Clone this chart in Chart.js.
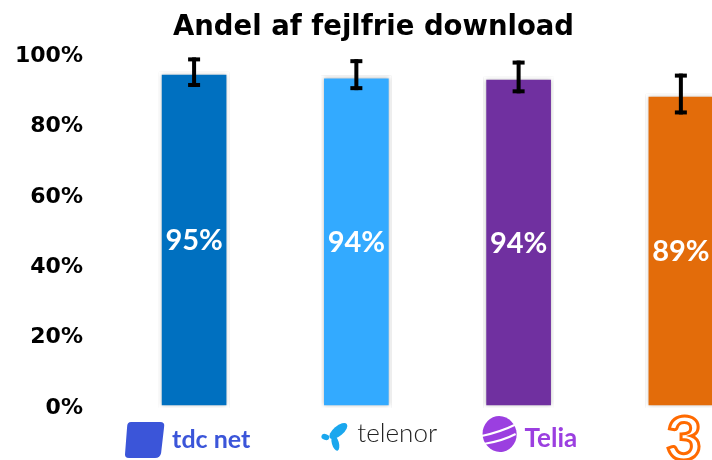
<!DOCTYPE html>
<html lang="da">
<head>
    <meta charset="UTF-8">
    <title>Andel af fejlfrie download</title>
    <style>
        body { margin: 0; overflow: hidden; background: #fff; }
        #wrap { width: 796px; height: 460px; margin-left: -15px; }
    </style>
</head>
<body>
    <div id="wrap">
        <canvas id="dlChart"></canvas>
    </div>
    <script src="https://cdn.jsdelivr.net/npm/chart.js"></script>
    <script>
        // data
        const operators = ['tdc net', 'telenor', 'Telia', '3'];
        const shares = [95.4, 94.4, 94.0, 89.2];
        const errLow = [91.2, 90.3, 89.4, 83.4];
        const errHigh = [99.6, 99.1, 98.7, 95.0];
        const barColors = ['#0070c0', '#33aaff', '#7030a0', '#e36c0a'];
        const yTicks = [0, 20, 40, 60, 80, 100];

        // soft shadow round the bars
        const shadowPlugin = {
            id: 'shadow',
            beforeDatasetsDraw(chart) {
                const ctx = chart.ctx;
                ctx.save();
                ctx.shadowColor = 'rgba(0,0,0,0.28)';
                ctx.shadowBlur = 4;
            },
            afterDatasetsDraw(chart) {
                chart.ctx.restore();
            }
        };

        // error bars + value labels
        const extrasPlugin = {
            id: 'extras',
            afterDatasetsDraw(chart) {
                const ctx = chart.ctx;
                const y = chart.scales.y;
                const meta = chart.getDatasetMeta(0);
                ctx.save();
                meta.data.forEach((bar, i) => {
                    // label
                    ctx.fillStyle = '#fff';
                    ctx.font = 'bold 29px Lato';
                    ctx.textAlign = 'center';
                    ctx.textBaseline = 'middle';
                    ctx.fillText(Math.round(shares[i]) + '%', bar.x, (bar.y + bar.base) / 2 + 1);

                    // error bar
                    const top = y.getPixelForValue(errHigh[i]);
                    const bot = y.getPixelForValue(errLow[i]);
                    ctx.fillStyle = '#000';
                    ctx.fillRect(bar.x - 2, top, 4, bot - top);
                    ctx.fillRect(bar.x - 6, top, 12, 4);
                    ctx.fillRect(bar.x - 6, bot - 4, 12, 4);
                });
                ctx.restore();
            }
        };

        // operator logos under the bars (approximations)
        const logoPlugin = {
            id: 'logos',
            afterDraw(chart) {
                const ctx = chart.ctx;
                const x = chart.scales.x;
                ctx.save();
                ctx.textBaseline = 'alphabetic';
                ctx.textAlign = 'left';

                // tdc net
                let cx = x.getPixelForValue(0);
                ctx.fillStyle = '#3b55d9';
                ctx.beginPath();
                ctx.moveTo(cx - 63, 422);
                ctx.lineTo(cx - 34, 422);
                ctx.quadraticCurveTo(cx - 29, 422, cx - 30, 427);
                ctx.lineTo(cx - 33, 453);
                ctx.quadraticCurveTo(cx - 34, 458, cx - 39, 458);
                ctx.lineTo(cx - 65, 458);
                ctx.quadraticCurveTo(cx - 70, 458, cx - 69, 453);
                ctx.lineTo(cx - 67, 427);
                ctx.quadraticCurveTo(cx - 67, 422, cx - 63, 422);
                ctx.fill();
                ctx.font = 'bold 25px Lato';
                ctx.fillText('tdc net', cx - 22, 448);

                // telenor
                cx = x.getPixelForValue(1);
                ctx.fillStyle = '#1aa7ee';
                ctx.save();
                ctx.translate(cx - 18, 431);
                ctx.rotate(-0.7);
                ctx.beginPath();
                ctx.ellipse(0, 0, 11, 5, 0, 0, Math.PI * 2);
                ctx.fill();
                ctx.restore();
                ctx.save();
                ctx.translate(cx - 21, 443);
                ctx.rotate(1.3);
                ctx.beginPath();
                ctx.ellipse(0, 0, 8, 3.5, 0, 0, Math.PI * 2);
                ctx.fill();
                ctx.restore();
                ctx.beginPath();
                ctx.ellipse(cx - 31, 437, 4, 3, 0.3, 0, Math.PI * 2);
                ctx.fill();
                ctx.fillStyle = '#222';
                ctx.font = '300 26px Lato';
                ctx.fillText('telenor', cx + 1, 442);

                // Telia
                cx = x.getPixelForValue(2);
                ctx.fillStyle = '#9b3fe0';
                ctx.beginPath();
                ctx.ellipse(cx - 19, 434, 17, 18, -0.2, 0, Math.PI * 2);
                ctx.fill();
                ctx.strokeStyle = '#fff';
                ctx.lineWidth = 2;
                ctx.beginPath();
                ctx.moveTo(cx - 37, 436);
                ctx.quadraticCurveTo(cx - 18, 432, cx - 2, 424);
                ctx.moveTo(cx - 35, 444);
                ctx.quadraticCurveTo(cx - 16, 441, cx - 3, 434);
                ctx.stroke();
                ctx.fillStyle = '#9b3fe0';
                ctx.font = 'bold 26px Lato';
                ctx.fillText('Telia', cx + 6, 447);

                // 3
                cx = x.getPixelForValue(3);
                ctx.strokeStyle = '#ff6a00';
                ctx.lineWidth = 3;
                ctx.font = 'bold 62px Lato';
                ctx.textAlign = 'center';
                ctx.strokeText('3', cx + 3, 460);
                ctx.restore();
            }
        };

        new Chart(document.getElementById('dlChart'), {
            type: 'bar',
            data: {
                labels: operators,
                datasets: [{
                    data: shares,
                    backgroundColor: barColors,
                    borderColor: '#fff',
                    borderWidth: 3,
                    borderSkipped: false,
                    barThickness: 70
                }]
            },
            plugins: [shadowPlugin, extrasPlugin, logoPlugin],
            options: {
                responsive: true,
                maintainAspectRatio: false,
                animation: false,
                layout: { padding: { left: 0, right: 19, top: 0, bottom: 52 } },
                plugins: {
                    legend: { display: false },
                    tooltip: { enabled: false },
                    title: {
                        display: true,
                        text: 'Andel af fejlfrie download',
                        color: '#000',
                        font: { family: 'DejaVu Sans', weight: 'bold', size: 27.5 },
                        padding: { top: 11, bottom: 12 }
                    }
                },
                scales: {
                    x: {
                        grid: { display: false, drawTicks: false },
                        border: { display: false },
                        ticks: { display: false }
                    },
                    y: {
                        min: 0,
                        max: 100,
                        afterBuildTicks(scale) {
                            scale.ticks = yTicks.map(v => ({ value: v }));
                        },
                        grid: { display: false, drawTicks: false },
                        border: { display: false },
                        ticks: {
                            color: '#000',
                            padding: 30,
                            font: { family: 'DejaVu Sans', weight: 'bold', size: 22 },
                            callback: v => v + '%'
                        }
                    }
                }
            }
        });
    </script>
</body>
</html>
